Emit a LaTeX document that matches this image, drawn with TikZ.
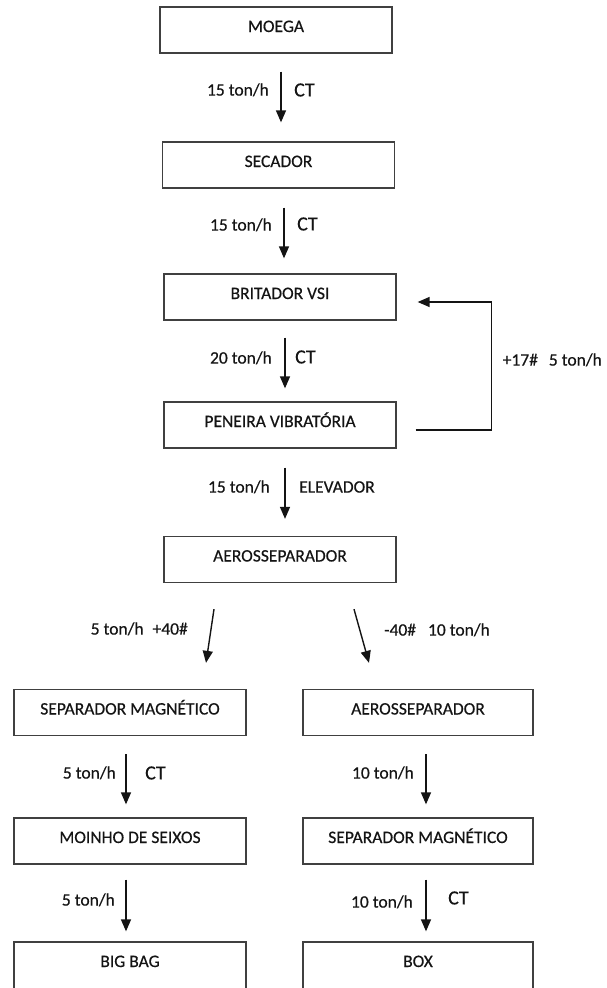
\documentclass[tikz,border=0pt]{standalone}
\usepackage{fontspec}
\setmainfont{Carlito}[FakeBold=0.5]
\usetikzlibrary{arrows.meta,calc}
\definecolor{boxline}{HTML}{404040}
\definecolor{inkcol}{HTML}{141414}
\tikzset{
  procbox/.style={draw=boxline, line width=1.3pt, minimum width=232pt, inner xsep=0pt, inner ysep=0pt,
    text height=25pt, text depth=21pt, align=center, text=inkcol,
    font=\fontsize{17.5}{21}\selectfont},
  flow/.style={draw=inkcol, line width=1.4pt, -{Triangle[width=10pt,length=12pt]}},
  lbl/.style={inner sep=0pt, text=inkcol, font=\fontsize{17.5}{21}\selectfont},
  ctlbl/.style={inner sep=0pt, text=inkcol, font=\fontsize{20}{24}\selectfont}
}
\begin{document}
\begin{tikzpicture}[x=1pt,y=-1pt]
\useasboundingbox (0,0) rectangle (606,988);
\begin{scope}
\clip (0,0) rectangle (606,988);
% boxes
\node[procbox] (moega)    at (276,30)    {MOEGA};
\node[procbox] (secador)  at (278.5,165) {SECADOR};
\node[procbox] (britador) at (280,297)   {BRITADOR VSI};
\node[procbox] (peneira)  at (280,425)   {PENEIRA VIBRATÓRIA};
\node[procbox] (aeroA)    at (280,559.5) {AEROSSEPARADOR};
\node[procbox] (sepL)     at (130,712.5) {SEPARADOR MAGNÉTICO};
\node[procbox, minimum width=230pt] (aeroB) at (418,712.5) {AEROSSEPARADOR};
\node[procbox] (moinho)   at (130,841)   {MOINHO DE SEIXOS};
\node[procbox, minimum width=230pt] (sepR) at (418,841) {SEPARADOR MAGNÉTICO};
\node[procbox, text depth=35pt] (bigbag) at (130,972) {BIG BAG};
\node[procbox, minimum width=230pt, text depth=35pt] (boxd) at (418,972) {BOX};
% arrows
\draw[flow] ($(moega.south)+(5,18)$) -- ($(secador.north)+(2.5,-19)$);
\draw[flow] ($(secador.south)+(5.5,19)$) -- ($(britador.north)+(4,-15)$);
\draw[flow] ($(britador.south)+(5,17)$) -- ($(peneira.north)+(5,-13)$);
\draw[flow] ($(peneira.south)+(5,19)$) -- ($(aeroA.north)+(5,-17)$);
\draw[flow] ($(peneira.east)+(19,5)$) -- ++(76,0) |- ($(britador.east)+(21,5)$);
\draw[flow] ($(aeroA.south)+(-66,26)$) -- ($(sepL.north)+(76,-26)$);
\draw[flow] ($(aeroA.south)+(74,26)$) -- ($(aeroB.north)+(-49,-26)$);
\draw[flow] ($(sepL.south)+(-4,18)$) -- ($(moinho.north)+(-4,-13)$);
\draw[flow] ($(aeroB.south)+(8,18)$) -- ($(sepR.north)+(8,-13)$);
\draw[flow] ($(moinho.south)+(-4,15)$) -- ($(bigbag.north)+(-4,-10)$);
\draw[flow] ($(sepR.south)+(8,15)$) -- ($(boxd.north)+(8,-10)$);
% labels
\node[lbl, anchor=base east] (l1) at (269,95.6) {15 ton/h};
\node[ctlbl, anchor=base west] (c1) at (294,96.4) {CT};
\node[lbl, anchor=base east] (l2) at (272,230.6) {15 ton/h};
\node[ctlbl, anchor=base west] (c2) at (297,230.4) {CT};
\node[lbl, anchor=base east] (l3) at (272,363.6) {20 ton/h};
\node[ctlbl, anchor=base west] (c3) at (295,363.4) {CT};
\node[lbl, anchor=base east] (l4) at (270,492.6) {15 ton/h};
\node[lbl, anchor=base west] (e4) at (299,492.6) {ELEVADOR};
\node[lbl, anchor=base east] (fb) at (602,365.6) {+17\#\hspace{11pt}5 ton/h};
\node[lbl, anchor=base east] (dl) at (188,634.6) {5 ton/h\hspace{9pt}+40\#};
\node[lbl, anchor=base west] (dr) at (384,635.6) {-40\#\hspace{12pt}10 ton/h};
\node[lbl, anchor=base east] (l5) at (116,778.6) {5 ton/h};
\node[ctlbl, anchor=base west] (c5) at (145,779.4) {CT};
\node[lbl, anchor=base east] (l6) at (414,778.6) {10 ton/h};
\node[lbl, anchor=base east] (l7) at (115,905.6) {5 ton/h};
\node[lbl, anchor=base east] (l8) at (413,907.6) {10 ton/h};
\node[ctlbl, anchor=base west] (c8) at (448,904.4) {CT};
\end{scope}
\end{tikzpicture}
\end{document}
